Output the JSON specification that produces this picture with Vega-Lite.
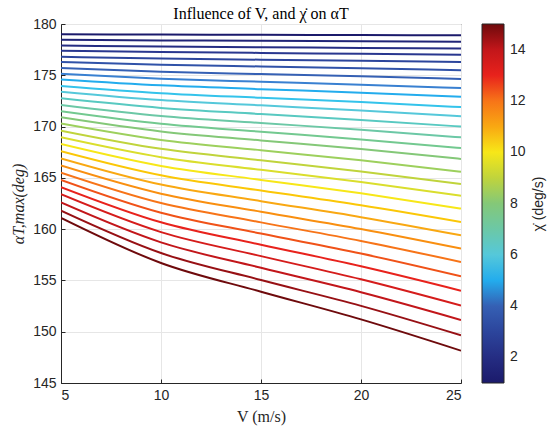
{
  "$schema": "https://vega.github.io/schema/vega-lite/v6.json",
  "width": 400,
  "height": 359,
  "autosize": "none",
  "padding": {"left": 61, "top": 24, "right": 89, "bottom": 50},
  "background": "white",
  "title": {
    "text": "Influence of V, and χ̇ on αT",
    "font": "Liberation Serif",
    "fontSize": 16,
    "fontWeight": "normal",
    "color": "#000000",
    "offset": 0,
    "dy": 5
  },
  "data": {
    "values": [
      {"chi": 1, "V": 5, "alpha": 179.0}, {"chi": 1, "V": 10, "alpha": 178.97}, {"chi": 1, "V": 15, "alpha": 178.94}, {"chi": 1, "V": 20, "alpha": 178.92}, {"chi": 1, "V": 25, "alpha": 178.9},
      {"chi": 1.5, "V": 5, "alpha": 178.47}, {"chi": 1.5, "V": 10, "alpha": 178.4}, {"chi": 1.5, "V": 15, "alpha": 178.36}, {"chi": 1.5, "V": 20, "alpha": 178.32}, {"chi": 1.5, "V": 25, "alpha": 178.27},
      {"chi": 2, "V": 5, "alpha": 177.9}, {"chi": 2, "V": 10, "alpha": 177.8}, {"chi": 2, "V": 15, "alpha": 177.73}, {"chi": 2, "V": 20, "alpha": 177.67}, {"chi": 2, "V": 25, "alpha": 177.6},
      {"chi": 2.5, "V": 5, "alpha": 177.4}, {"chi": 2.5, "V": 10, "alpha": 177.26}, {"chi": 2.5, "V": 15, "alpha": 177.18}, {"chi": 2.5, "V": 20, "alpha": 177.09}, {"chi": 2.5, "V": 25, "alpha": 177.0},
      {"chi": 3, "V": 5, "alpha": 176.8}, {"chi": 3, "V": 10, "alpha": 176.63}, {"chi": 3, "V": 15, "alpha": 176.52}, {"chi": 3, "V": 20, "alpha": 176.42}, {"chi": 3, "V": 25, "alpha": 176.3},
      {"chi": 3.5, "V": 5, "alpha": 176.3}, {"chi": 3.5, "V": 10, "alpha": 176.03}, {"chi": 3.5, "V": 15, "alpha": 175.86}, {"chi": 3.5, "V": 20, "alpha": 175.69}, {"chi": 3.5, "V": 25, "alpha": 175.5},
      {"chi": 4, "V": 5, "alpha": 175.7}, {"chi": 4, "V": 10, "alpha": 175.34}, {"chi": 4, "V": 15, "alpha": 175.12}, {"chi": 4, "V": 20, "alpha": 174.9}, {"chi": 4, "V": 25, "alpha": 174.65},
      {"chi": 4.5, "V": 5, "alpha": 175.15}, {"chi": 4.5, "V": 10, "alpha": 174.67}, {"chi": 4.5, "V": 15, "alpha": 174.37}, {"chi": 4.5, "V": 20, "alpha": 174.08}, {"chi": 4.5, "V": 25, "alpha": 173.75},
      {"chi": 5, "V": 5, "alpha": 174.6}, {"chi": 5, "V": 10, "alpha": 174.02}, {"chi": 5, "V": 15, "alpha": 173.65}, {"chi": 5, "V": 20, "alpha": 173.3}, {"chi": 5, "V": 25, "alpha": 172.9},
      {"chi": 5.5, "V": 5, "alpha": 173.96}, {"chi": 5.5, "V": 10, "alpha": 173.26}, {"chi": 5.5, "V": 15, "alpha": 172.81}, {"chi": 5.5, "V": 20, "alpha": 172.39}, {"chi": 5.5, "V": 25, "alpha": 171.9},
      {"chi": 6, "V": 5, "alpha": 173.4}, {"chi": 6, "V": 10, "alpha": 172.58}, {"chi": 6, "V": 15, "alpha": 172.07}, {"chi": 6, "V": 20, "alpha": 171.57}, {"chi": 6, "V": 25, "alpha": 171.0},
      {"chi": 6.5, "V": 5, "alpha": 172.75}, {"chi": 6.5, "V": 10, "alpha": 171.82}, {"chi": 6.5, "V": 15, "alpha": 171.22}, {"chi": 6.5, "V": 20, "alpha": 170.65}, {"chi": 6.5, "V": 25, "alpha": 170.0},
      {"chi": 7, "V": 5, "alpha": 172.1}, {"chi": 7, "V": 10, "alpha": 171.03}, {"chi": 7, "V": 15, "alpha": 170.35}, {"chi": 7, "V": 20, "alpha": 169.69}, {"chi": 7, "V": 25, "alpha": 168.95},
      {"chi": 7.5, "V": 5, "alpha": 171.5}, {"chi": 7.5, "V": 10, "alpha": 170.28}, {"chi": 7.5, "V": 15, "alpha": 169.5}, {"chi": 7.5, "V": 20, "alpha": 168.75}, {"chi": 7.5, "V": 25, "alpha": 167.9},
      {"chi": 8, "V": 5, "alpha": 170.9}, {"chi": 8, "V": 10, "alpha": 169.52}, {"chi": 8, "V": 15, "alpha": 168.65}, {"chi": 8, "V": 20, "alpha": 167.81}, {"chi": 8, "V": 25, "alpha": 166.85},
      {"chi": 8.5, "V": 5, "alpha": 170.3}, {"chi": 8.5, "V": 10, "alpha": 168.7}, {"chi": 8.5, "V": 15, "alpha": 167.69}, {"chi": 8.5, "V": 20, "alpha": 166.71}, {"chi": 8.5, "V": 25, "alpha": 165.6},
      {"chi": 9, "V": 5, "alpha": 169.6}, {"chi": 9, "V": 10, "alpha": 167.83}, {"chi": 9, "V": 15, "alpha": 166.71}, {"chi": 9, "V": 20, "alpha": 165.63}, {"chi": 9, "V": 25, "alpha": 164.4},
      {"chi": 9.5, "V": 5, "alpha": 168.95}, {"chi": 9.5, "V": 10, "alpha": 167.01}, {"chi": 9.5, "V": 15, "alpha": 165.78}, {"chi": 9.5, "V": 20, "alpha": 164.6}, {"chi": 9.5, "V": 25, "alpha": 163.25},
      {"chi": 10, "V": 5, "alpha": 168.3}, {"chi": 10, "V": 10, "alpha": 166.16}, {"chi": 10, "V": 15, "alpha": 164.8}, {"chi": 10, "V": 20, "alpha": 163.49}, {"chi": 10, "V": 25, "alpha": 162.0},
      {"chi": 10.5, "V": 5, "alpha": 167.6}, {"chi": 10.5, "V": 10, "alpha": 165.25}, {"chi": 10.5, "V": 15, "alpha": 163.76}, {"chi": 10.5, "V": 20, "alpha": 162.33}, {"chi": 10.5, "V": 25, "alpha": 160.7},
      {"chi": 11, "V": 5, "alpha": 166.9}, {"chi": 11, "V": 10, "alpha": 164.35}, {"chi": 11, "V": 15, "alpha": 162.73}, {"chi": 11, "V": 20, "alpha": 161.17}, {"chi": 11, "V": 25, "alpha": 159.4},
      {"chi": 11.5, "V": 5, "alpha": 166.2}, {"chi": 11.5, "V": 10, "alpha": 163.45}, {"chi": 11.5, "V": 15, "alpha": 161.7}, {"chi": 11.5, "V": 20, "alpha": 160.01}, {"chi": 11.5, "V": 25, "alpha": 158.1},
      {"chi": 12, "V": 5, "alpha": 165.5}, {"chi": 12, "V": 10, "alpha": 162.54}, {"chi": 12, "V": 15, "alpha": 160.66}, {"chi": 12, "V": 20, "alpha": 158.85}, {"chi": 12, "V": 25, "alpha": 156.8},
      {"chi": 12.5, "V": 5, "alpha": 164.8}, {"chi": 12.5, "V": 10, "alpha": 161.6}, {"chi": 12.5, "V": 15, "alpha": 159.57}, {"chi": 12.5, "V": 20, "alpha": 157.62}, {"chi": 12.5, "V": 25, "alpha": 155.4},
      {"chi": 13, "V": 5, "alpha": 164.1}, {"chi": 13, "V": 10, "alpha": 160.67}, {"chi": 13, "V": 15, "alpha": 158.48}, {"chi": 13, "V": 20, "alpha": 156.38}, {"chi": 13, "V": 25, "alpha": 154.0},
      {"chi": 13.5, "V": 5, "alpha": 163.4}, {"chi": 13.5, "V": 10, "alpha": 159.71}, {"chi": 13.5, "V": 15, "alpha": 157.37}, {"chi": 13.5, "V": 20, "alpha": 155.11}, {"chi": 13.5, "V": 25, "alpha": 152.55},
      {"chi": 14, "V": 5, "alpha": 162.6}, {"chi": 14, "V": 10, "alpha": 158.71}, {"chi": 14, "V": 15, "alpha": 156.23}, {"chi": 14, "V": 20, "alpha": 153.85}, {"chi": 14, "V": 25, "alpha": 151.15},
      {"chi": 14.5, "V": 5, "alpha": 161.8}, {"chi": 14.5, "V": 10, "alpha": 157.67}, {"chi": 14.5, "V": 15, "alpha": 155.04}, {"chi": 14.5, "V": 20, "alpha": 152.52}, {"chi": 14.5, "V": 25, "alpha": 149.65},
      {"chi": 15, "V": 5, "alpha": 161.1}, {"chi": 15, "V": 10, "alpha": 156.7}, {"chi": 15, "V": 15, "alpha": 153.9}, {"chi": 15, "V": 20, "alpha": 151.2}, {"chi": 15, "V": 25, "alpha": 148.15}
    ]
  },
  "mark": {"type": "line", "strokeWidth": 2, "clip": true, "interpolate": "monotone"},
  "encoding": {
    "x": {
      "field": "V",
      "type": "quantitative",
      "scale": {"domain": [5, 25], "nice": false, "zero": false},
      "axis": {
        "title": "V (m/s)",
        "values": [5, 10, 15, 20, 25],
        "titleFont": "Liberation Serif",
        "titleFontSize": 16,
        "titleFontWeight": "normal",
        "titleColor": "#262626",
        "titlePadding": 6
      }
    },
    "y": {
      "field": "alpha",
      "type": "quantitative",
      "scale": {"domain": [145, 180], "nice": false, "zero": false},
      "axis": {
        "title": "αT,max(deg)",
        "values": [145, 150, 155, 160, 165, 170, 175, 180],
        "titleFont": "Liberation Serif",
        "titleFontSize": 16,
        "titleFontStyle": "italic",
        "titleFontWeight": "normal",
        "titleColor": "#262626",
        "titlePadding": 6
      }
    },
    "detail": {"field": "chi", "type": "nominal"},
    "color": {
      "field": "chi",
      "type": "quantitative",
      "scale": {
        "domain": [1, 2.5, 4, 4.6, 5.2, 6, 7, 8, 9, 10, 11, 12, 13, 14, 15],
        "range": ["#1b1a6b", "#29378f", "#3560b4", "#3a86d6", "#22bff5", "#55c8da", "#6cc8a6", "#84c878", "#c0d43c", "#f7e718", "#f9a812", "#f77418", "#e8221c", "#c2161a", "#6e0a0c"]
      },
      "legend": {
        "title": "χ̇ (deg/s)",
        "orient": "right",
        "offset": 21,
        "direction": "vertical",
        "gradientLength": 359,
        "gradientThickness": 22,
        "gradientStrokeColor": "#262626",
        "gradientStrokeWidth": 1,
        "values": [2, 4, 6, 8, 10, 12, 14],
        "labelFont": "Liberation Sans",
        "labelFontSize": 14,
        "labelColor": "#262626",
        "labelOffset": 6,
        "titleOrient": "right",
        "titleFont": "Liberation Sans",
        "titleFontSize": 14,
        "titleFontWeight": "normal",
        "titleColor": "#262626",
        "titlePadding": 20,
        "encode": {
          "title": {"update": {"angle": {"value": 270}}}
        }
      }
    }
  },
  "config": {
    "view": {"stroke": "#262626", "strokeWidth": 1},
    "axis": {
      "labelFont": "Liberation Sans",
      "labelFontSize": 14,
      "labelColor": "#262626",
      "domainColor": "#262626",
      "tickColor": "#262626",
      "tickSize": -4,
      "labelPadding": 9,
      "gridColor": "#e6e6e6",
      "grid": true
    }
  }
}
